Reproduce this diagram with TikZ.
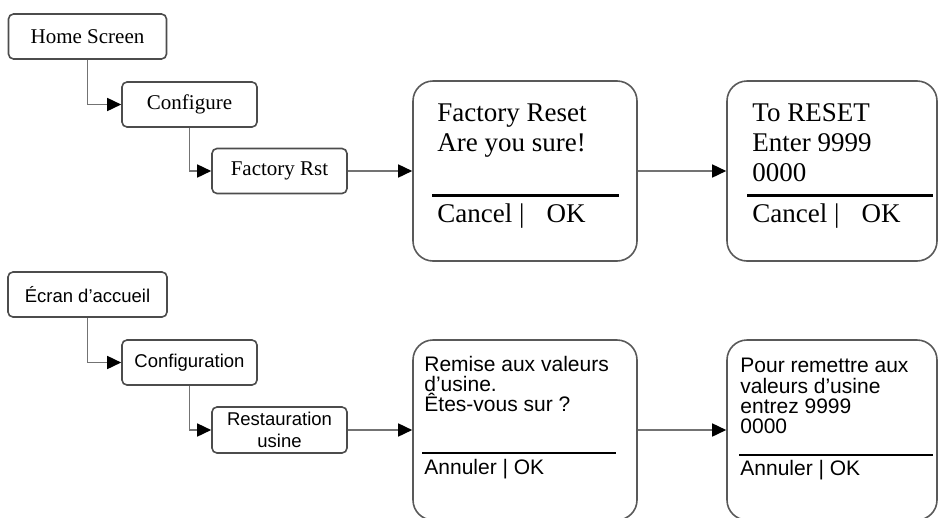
\documentclass[tikz,border=0pt]{standalone}
\usepackage{fontspec}
\usepackage{tikz}
\usetikzlibrary{positioning, arrows.meta}
\newfontfamily\serifui{Liberation Serif}
\newfontfamily\sansui{Liberation Sans}
\tikzstyle{menu} = [rectangle, rounded corners=5pt, draw=black!70, line width=1.6pt, minimum height=45pt, inner sep=0pt, text centered]
\tikzstyle{screen} = [rectangle, rounded corners=20pt, draw=black!65, line width=1.6pt, minimum height=180pt]
\tikzstyle{scrtext} = [inner sep=0pt, align=left]
\tikzstyle{arrow} = [line width=1.6pt, draw=black!55, -{Triangle[length=14pt, width=13pt, color=black]}]
\tikzstyle{sep} = [line width=3pt, black]
\newcommand{\serifbig}{\serifui\fontsize{27}{30}\selectfont}
\newcommand{\serifsmall}{\serifui\fontsize{21}{24}\selectfont}
\newcommand{\sansbig}{\sansui\fontsize{21}{20.2}\selectfont}
\newcommand{\sanssmall}{\sansui\fontsize{18.5}{22}\selectfont}

\begin{document}
\begin{tikzpicture}[x=1pt, y=-1pt]
                \clip (0,0) rectangle (939,517);
                \node (home) [menu, minimum width=158pt, font=\serifsmall] at (87.5,36.5) {Home Screen};
                \node (conf) [menu, minimum width=135pt, font=\serifsmall, below right=21.4pt and -46.1pt of home] {Configure};
                \node (frst) [menu, minimum width=135pt, font=\serifsmall, below right=19.9pt and -46.6pt of conf] {Factory Rst};
                \node (rs1) [screen, minimum width=224pt, right=64.4pt of frst] {};
                \node (rs2) [screen, minimum width=210pt, right=88.4pt of rs1] {};

                \node (rs1txt) [scrtext, font=\serifbig, anchor=north west] at ([shift={(25,23.5)}]rs1.north west) {Factory Reset\\Are you sure!};
                \node (rs1btn) [scrtext, font=\serifbig, anchor=base west] at ([shift={(25,51.5)}]rs1.west) {Cancel |\hspace{22pt}OK};
                \node (rs2txt) [scrtext, font=\serifbig, anchor=north west] at ([shift={(26,23)}]rs2.north west) {To RESET\\Enter 9999\\0000};
                \node (rs2btn) [scrtext, font=\serifbig, anchor=base west] at ([shift={(26,51.5)}]rs2.west) {Cancel |\hspace{22pt}OK};

                \node (ecran) [menu, minimum width=159pt, font=\sanssmall, below=211.4pt of home] {Écran d’accueil};
                \node (confb) [menu, minimum width=135pt, font=\sanssmall, below right=21.4pt and -46.6pt of ecran] {Configuration};
                \node (restb) [menu, minimum width=135pt, minimum height=46pt, align=center, font=\sanssmall, below right=20.4pt and -46.6pt of confb] {Restauration\\usine};
                \node (rm1) [screen, minimum width=224pt, right=64.4pt of restb] {};
                \node (rm2) [screen, minimum width=210pt, right=88.4pt of rm1] {};

                \node (rm1txt) [scrtext, font=\sansbig, anchor=north west] at ([shift={(12,16.5)}]rm1.north west) {Remise aux valeurs\\d’usine.\\Êtes-vous sur ?};
                \node (rm1btn) [scrtext, font=\sansbig, anchor=base west] at ([shift={(12,44.5)}]rm1.west) {Annuler | OK};
                \node (rm2txt) [scrtext, font=\sansbig, anchor=north west] at ([shift={(14,19)}]rm2.north west) {Pour remettre aux\\valeurs d’usine\\entrez 9999\\0000};
                \node (rm2btn) [scrtext, font=\sansbig, anchor=base west] at ([shift={(14,45.5)}]rm2.west) {Annuler | OK};

                \draw [sep] ([shift={(20,24.5)}]rs1.west) -- ([shift={(-19,24.5)}]rs1.east);
                \draw [sep] ([shift={(21,24.5)}]rs2.west) -- ([shift={(-5,24.5)}]rs2.east);
                \draw [sep, line width=2pt] ([shift={(10,22.5)}]rm1.west) -- ([shift={(-22,22.5)}]rm1.east);
                \draw [sep, line width=2pt] ([shift={(13,24.5)}]rm2.west) -- ([shift={(-5,24.5)}]rm2.east);

                \draw [arrow] (home) |- (conf);
                \draw [arrow] (conf) |- (frst);
                \draw [arrow] (frst) -- (rs1);
                \draw [arrow] (rs1) -- (rs2);
                \draw [arrow] (ecran) |- (confb);
                \draw [arrow] (confb) |- (restb);
                \draw [arrow] (restb) -- (rm1);
                \draw [arrow] (rm1) -- (rm2);
\end{tikzpicture}
\end{document}
